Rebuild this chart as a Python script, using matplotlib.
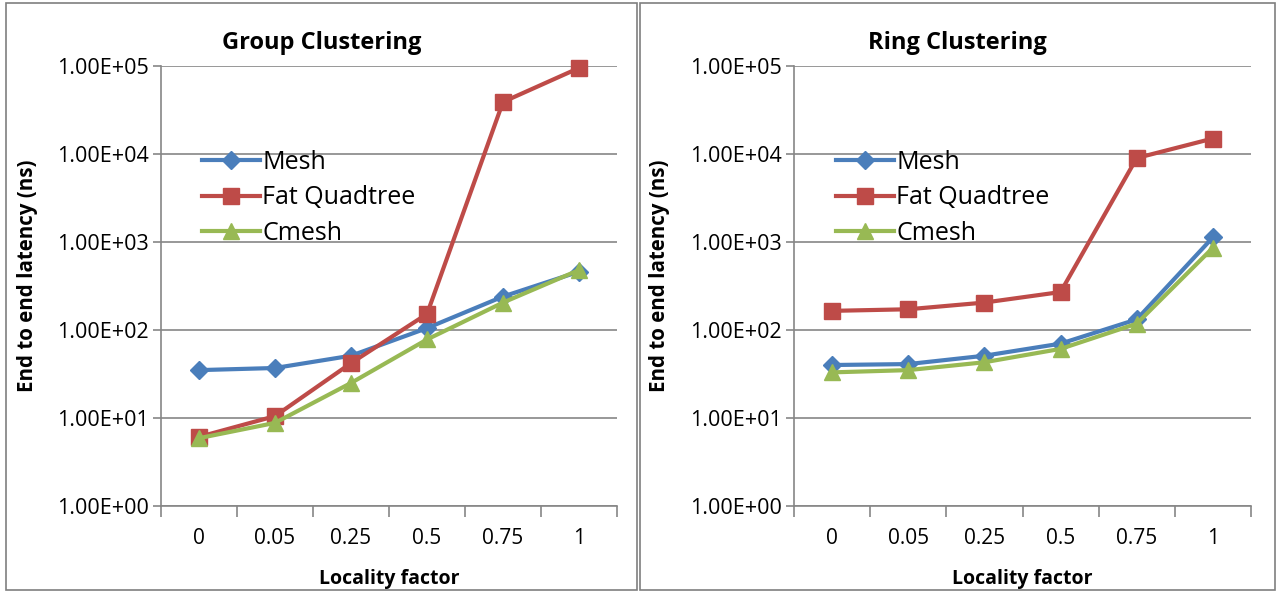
""" Latency vs locality factor, group and ring clustering """

import matplotlib
matplotlib.use('Agg')
import matplotlib.pyplot as plt
from matplotlib.patches import Rectangle

plt.rcParams['font.family'] = ['Open Sans', 'DejaVu Sans']

#!datos
locality = ['0', '0.05', '0.25', '0.5', '0.75', '1']
series_names = ['Mesh', 'Fat Quadtree', 'Cmesh']

group_mesh = [35, 37, 51, 105, 240, 460]
group_fat_quadtree = [6.1, 10.5, 42, 152, 39000, 95000]
group_cmesh = [5.9, 8.8, 25, 78, 205, 480]

ring_mesh = [40, 41, 51, 70, 132, 1130]
ring_fat_quadtree = [165, 172, 205, 270, 9000, 15000]
ring_cmesh = [33, 35, 43, 61, 118, 860]

colores = ['#4A7EBB', '#BE4B48', '#98B954']
marcadores = ['D', 's', '^']
tam_marcador = [9, 11, 11]

W, H = 1278, 593
fig = plt.figure(figsize=(W / 100, H / 100), dpi=100)


def px_axes(x0, x1, y0, y1):
    return fig.add_axes([x0 / W, 1 - y1 / H, (x1 - x0) / W, (y1 - y0) / H])


def panel(x0, x1, y0, y1):
    fig.patches.append(Rectangle((x0 / W, 1 - y1 / H), (x1 - x0) / W, (y1 - y0) / H,
                                 transform=fig.transFigure, fill=False,
                                 edgecolor='#7F7F7F', linewidth=1.2))


def dibujar(ax, titulo, datos, panel_x0, panel_x1, leg_x, ylab_x):
    xs = range(len(locality))
    for vals, nombre, c, m, ms in zip(datos, series_names, colores, marcadores, tam_marcador):
        ax.plot(xs, vals, color=c, marker=m, markersize=ms, linewidth=3,
                markerfacecolor=c, markeredgecolor=c, label=nombre, clip_on=False)
    ax.set_yscale('log')
    ax.set_ylim(1, 1e5)
    ax.set_xlim(-0.5, len(locality) - 0.5)
    ax.set_yticks([1, 10, 100, 1000, 1e4, 1e5])
    ax.set_yticklabels(['1.00E+00', '1.00E+01', '1.00E+02', '1.00E+03', '1.00E+04', '1.00E+05'])
    ax.minorticks_off()
    ax.set_xticks(list(xs))
    ax.set_xticklabels(locality)
    ax.set_xticks([i - 0.5 for i in range(len(locality) + 1)], minor=True)
    ax.tick_params(axis='x', which='major', length=0, pad=16, labelsize=15)
    ax.tick_params(axis='x', which='minor', length=8, width=1.2, color='#868686', direction='out')
    ax.tick_params(axis='y', length=6, width=1.2, color='#868686', labelsize=15.5, pad=3)
    ax.grid(axis='y', color='#868686', linewidth=1.2)
    ax.set_axisbelow(True)
    for lado in ['top', 'right']:
        ax.spines[lado].set_visible(False)
    for lado in ['left', 'bottom']:
        ax.spines[lado].set_color('#868686')
        ax.spines[lado].set_linewidth(1.2)
    # titulo centrado en el panel, no en el eje
    fig.text((panel_x0 + panel_x1) / 2 / W, 1 - 43 / H, titulo, fontsize=17,
             fontweight='bold', ha='center', va='center')
    ax.set_xlabel('Locality factor', fontsize=14, fontweight='bold', labelpad=14)
    fig.text(ylab_x / W, 1 - 276 / H, 'End to end latency (ns)', fontsize=14.8,
             fontweight='bold', rotation=90, ha='center', va='center')
    ax.legend(loc='upper left', bbox_to_anchor=(leg_x / W, 1 - 150 / H),
              bbox_transform=fig.transFigure, frameon=False, fontsize=18,
              handlelength=2.3, handletextpad=0.12, labelspacing=0.42, borderpad=0,
              borderaxespad=0)


panel(6, 637, 3, 590)
panel(640, 1275, 3, 590)

ax1 = px_axes(161, 617, 66, 506)
dibujar(ax1, 'Group Clustering', [group_mesh, group_fat_quadtree, group_cmesh],
        6, 637, 202, 28)

ax2 = px_axes(794, 1251, 66, 506)
dibujar(ax2, 'Ring Clustering', [ring_mesh, ring_fat_quadtree, ring_cmesh],
        640, 1275, 836, 659)

fig.savefig('out.png', dpi=100)
